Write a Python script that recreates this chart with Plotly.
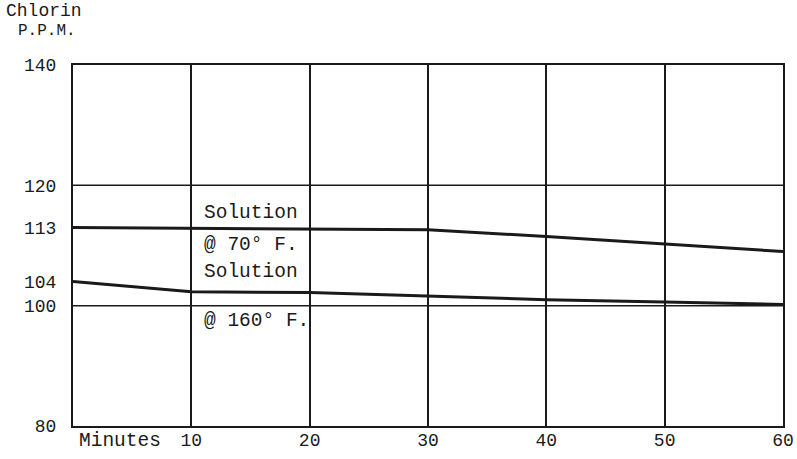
import plotly.graph_objects as go

minutes = [0, 10, 20, 30, 40, 50, 60]
sol_70 = [113, 112.9, 112.8, 112.6, 111.5, 110.2, 109.0]
sol_160 = [104, 102.3, 102.2, 101.6, 101.0, 100.6, 100.2]

x_ticks = [10, 20, 30, 40, 50, 60]
y_ticks = [80, 100, 104, 113, 120, 140]
y_grid = [100, 120]

FONT = "Liberation Mono"
INK = "#1a1a1a"

fig = go.Figure()
fig.add_trace(go.Scatter(x=minutes, y=sol_70, mode="lines",
                         line=dict(color=INK, width=3), name="Solution @ 70° F."))
fig.add_trace(go.Scatter(x=minutes, y=sol_160, mode="lines",
                         line=dict(color=INK, width=3), name="Solution @ 160° F."))

for g in y_grid:
    fig.add_shape(type="line", xref="x", yref="y", x0=0, x1=60, y0=g, y1=g,
                  line=dict(color=INK, width=1.5), layer="below")

fig.update_xaxes(range=[0, 60], tickvals=x_ticks, ticktext=[str(v) for v in x_ticks],
                 showgrid=True, gridcolor=INK, gridwidth=1.5, zeroline=False,
                 showline=True, linecolor=INK, linewidth=2, mirror=True,
                 ticks="", ticklabelstandoff=-4, automargin=False,
                 tickfont=dict(family=FONT, size=18, color=INK))
fig.update_yaxes(range=[80, 140], tickvals=y_ticks, ticktext=[str(v) for v in y_ticks],
                 showgrid=False, zeroline=False,
                 showline=True, linecolor=INK, linewidth=2, mirror=True,
                 ticks="", ticklabelstandoff=11, automargin=False,
                 tickfont=dict(family=FONT, size=18, color=INK))

ann_font = dict(family=FONT, size=19.5, color=INK)
labels = [
    ("Solution", 115.4),
    ("@ 70° F.", 110.1),
    ("Solution", 105.6),
    ("@ 160° F.", 97.5),
]
for txt, yv in labels:
    fig.add_annotation(x=10.9, y=yv, xref="x", yref="y", text=txt, showarrow=False,
                       xanchor="left", yanchor="middle", font=ann_font)

fig.add_annotation(x=10, y=0, xref="x", yref="paper", text="Minutes", showarrow=False,
                   xanchor="right", yanchor="middle", xshift=-28, yshift=-15,
                   font=dict(family=FONT, size=19.5, color=INK))

fig.add_annotation(x=0, y=1, xref="paper", yref="paper", text="Chlorin", showarrow=False,
                   xanchor="left", yanchor="middle", xshift=-69, yshift=54,
                   font=dict(family=FONT, size=18, color=INK))
fig.add_annotation(x=0, y=1, xref="paper", yref="paper", text="P.P.M.", showarrow=False,
                   xanchor="left", yanchor="middle", xshift=-57, yshift=34,
                   font=dict(family=FONT, size=16, color=INK))

fig.update_layout(width=797, height=459, showlegend=False,
                  margin=dict(l=73, r=14, t=65, b=33),
                  paper_bgcolor="white", plot_bgcolor="white")

fig.write_html("out.html", config={"displayModeBar": False},
               post_script="document.body.style.margin='0';")
